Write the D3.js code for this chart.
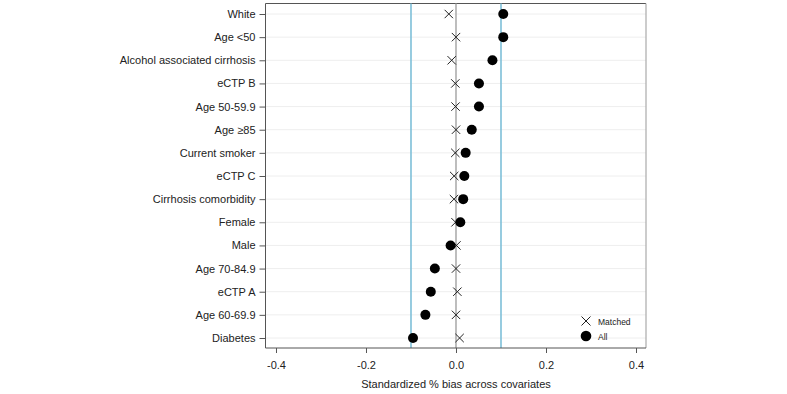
<!DOCTYPE html>
<html lang="en">
  <head>
    <meta charset="utf-8">
    <style>
      body { margin: 0; background: #fff; }
      svg { display: block; font-family: "Liberation Sans", Arial, sans-serif; }
    </style>
    <script src="https://d3js.org/d3.v7.min.js"></script>
  </head>
  <body>
    <script>
    // covariates, top to bottom
    const covariates = ["White", "Age <50", "Alcohol associated cirrhosis", "eCTP B", "Age 50-59.9",
      "Age \u226585 ", "Current smoker", "eCTP C", "Cirrhosis comorbidity", "Female", "Male",
      "Age 70-84.9", "eCTP A", "Age 60-69.9", "Diabetes"]
    const allBias = [0.105, 0.105, 0.081, 0.051, 0.051, 0.035, 0.0215, 0.0185, 0.016, 0.0096,
      -0.012, -0.047, -0.056, -0.068, -0.0955]
    const matchedBias = [-0.016, 0.0, -0.0096, -0.0015, -0.001, 0.0, -0.0015, -0.004, -0.0045, -0.001,
      0.001, 0.0, 0.003, 0.0, 0.008]
    const xTicks = [-0.4, -0.2, 0.0, 0.2, 0.4]
    const refLines = [-0.1, 0.1]

    const width = 787, height = 394
    const plot = { left: 265.5, right: 646, top: 3.5, bottom: 348 }

    const svg = d3.select("body").append("svg")
      .attr("width", width)
      .attr("height", height)

    const x = d3.scaleLinear()
      .domain([-0.4233, 0.4222])
      .range([plot.left, plot.right])

    const y = d3.scalePoint()
      .domain(covariates)
      .range([14, 338])

    // horizontal grid
    svg.append("g")
      .selectAll("line")
      .data(covariates)
      .join("line")
      .attr("x1", plot.left).attr("x2", plot.right)
      .attr("y1", d => y(d)).attr("y2", d => y(d))
      .attr("stroke", "#eeeeee")
      .attr("stroke-width", 1)

    // frame: top and right
    svg.append("line")
      .attr("x1", plot.left).attr("x2", plot.right)
      .attr("y1", plot.top).attr("y2", plot.top)
      .attr("stroke", "#555").attr("stroke-width", 1)
    svg.append("line")
      .attr("x1", plot.right).attr("x2", plot.right)
      .attr("y1", plot.top).attr("y2", plot.bottom)
      .attr("stroke", "#aaa").attr("stroke-width", 1.2)

    // zero line
    svg.append("line")
      .attr("x1", x(0)).attr("x2", x(0))
      .attr("y1", plot.top).attr("y2", plot.bottom)
      .attr("stroke", "#a8a8a8").attr("stroke-width", 1.5)

    // reference lines
    svg.append("g")
      .selectAll("line")
      .data(refLines)
      .join("line")
      .attr("x1", d => x(d)).attr("x2", d => x(d))
      .attr("y1", plot.top).attr("y2", plot.bottom)
      .attr("stroke", "#7dbfd8").attr("stroke-width", 1.6)

    // axes
    const fmt = d => d3.format(".1f")(d).replace("\u2212", "-")
    const xAxis = svg.append("g")
      .attr("transform", `translate(0,${plot.bottom})`)
      .call(d3.axisBottom(x).tickValues(xTicks).tickFormat(fmt).tickSize(5).tickSizeOuter(0).tickPadding(8))
    xAxis.select(".domain").attr("stroke", "#555").attr("d", `M${plot.left},0H${plot.right}`)
    xAxis.selectAll(".tick line").attr("stroke", "#555")
    xAxis.selectAll(".tick text").style("font-size", "11px").attr("fill", "#222")

    const yAxis = svg.append("g")
      .attr("transform", `translate(${plot.left},0)`)
      .call(d3.axisLeft(y).tickSize(6).tickSizeOuter(0).tickPadding(4))
    yAxis.select(".domain").attr("stroke", "#555").attr("d", `M0,${plot.top}V${plot.bottom}`)
    yAxis.selectAll(".tick line").attr("stroke", "#555")
    yAxis.selectAll(".tick text").style("font-size", "11px").attr("fill", "#222")

    svg.append("text")
      .attr("x", x(0))
      .attr("y", 388)
      .attr("text-anchor", "middle")
      .style("font-size", "11px")
      .attr("fill", "#222")
      .text("Standardized % bias across covariates")

    const cross = (g, cx, cy, s) => g.append("path")
      .attr("d", `M${cx - s},${cy - s}L${cx + s},${cy + s}M${cx - s},${cy + s}L${cx + s},${cy - s}`)
      .attr("stroke", "#222").attr("stroke-width", 1).attr("fill", "none")

    // matched crosses
    const marks = svg.append("g")
    covariates.forEach((c, i) => cross(marks, x(matchedBias[i]), y(c), 4.2))

    // all dots
    svg.append("g")
      .selectAll("circle")
      .data(covariates)
      .join("circle")
      .attr("cx", (d, i) => x(allBias[i]))
      .attr("cy", d => y(d))
      .attr("r", 5)
      .attr("fill", "#000")

    // legend
    const legend = svg.append("g")
    cross(legend, 586, 321, 4.5)
    legend.append("circle").attr("cx", 586).attr("cy", 336).attr("r", 5.3).attr("fill", "#000")
    legend.append("text").attr("x", 598).attr("y", 325).style("font-size", "8.5px").attr("fill", "#222").text("Matched")
    legend.append("text").attr("x", 598).attr("y", 339.5).style("font-size", "8.5px").attr("fill", "#222").text("All")
    </script>
  </body>
</html>
